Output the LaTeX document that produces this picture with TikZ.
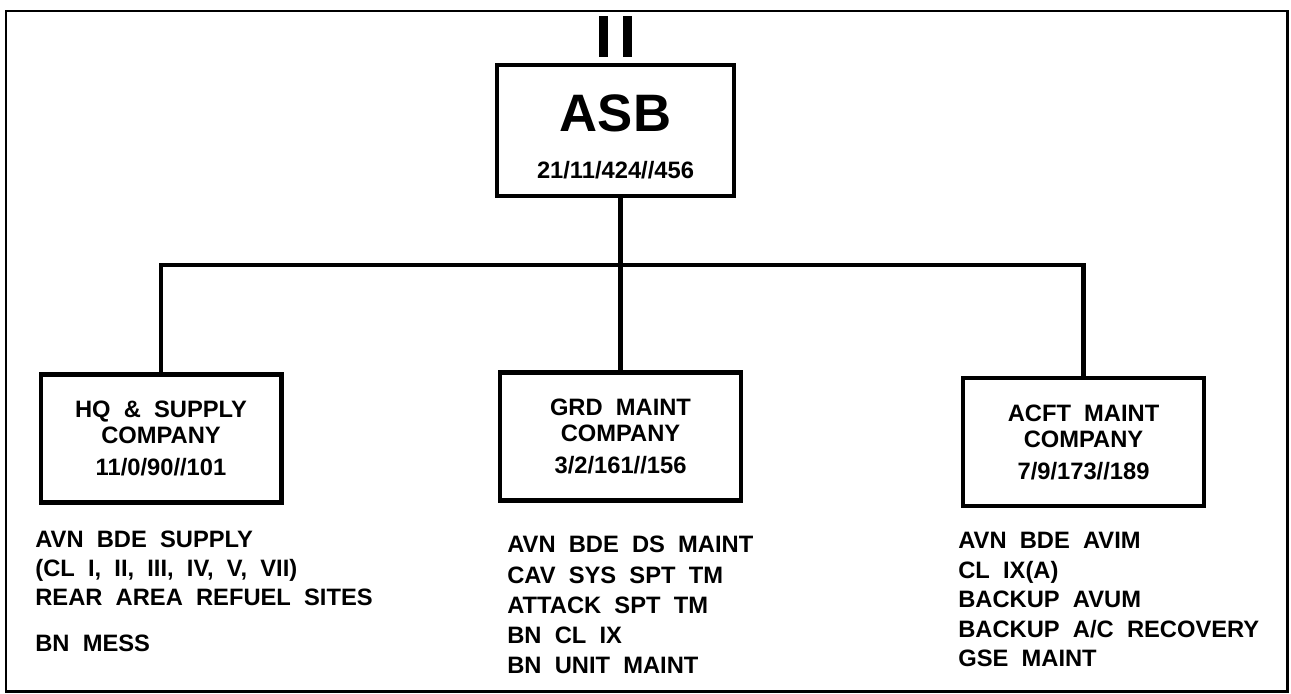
\documentclass[tikz,border=0pt]{standalone}
\usepackage{fontspec}
\setmainfont[WordSpace=2]{Liberation Sans}
\begin{document}
\begin{tikzpicture}[
    x=0.02cm, y=-0.02cm,
    unitbox/.style={
      rectangle, draw=black, line width=2.3pt, fill=white,
      minimum width=4.82cm, minimum height=2.56cm,
      align=center, inner sep=0pt,
      font=\bfseries\fontsize{13.5}{15}\selectfont
    },
    hqbox/.style={unitbox, minimum width=4.74cm, minimum height=2.62cm},
    tasks/.style={
      anchor=north west, align=left, inner sep=0pt,
      font=\bfseries\fontsize{13.5}{17}\selectfont
    },
    conn/.style={line width=2.8pt},
    frame/.style={line width=1.7pt},
]
\useasboundingbox (0,0) rectangle (1291,693);

% ===== OUTER FRAME =====
\draw[frame] (6,11) rectangle (1287,691);

% ===== BATTALION =====
\node[hqbox] (asb) at (615.5,130.5) {};
\node[font=\bfseries\fontsize{30}{32}\selectfont] (asbname) at (615.5,113) {ASB};
\node[font=\bfseries\fontsize{13.5}{15}\selectfont] (asbstr) at (615.5,170) {21/11/424//456};
% echelon mark
\fill (599,16) rectangle (608,57);
\fill (623,16) rectangle (632,57);

% ===== COMPANIES =====
\node[unitbox] (hqco) at (161,438.5) {HQ \& SUPPLY\\COMPANY\\[3pt]11/0/90//101};
\node[unitbox] (grdco) at (620.5,436.5) {GRD MAINT\\COMPANY\\[3pt]3/2/161//156};
\node[unitbox] (acftco) at (1083.5,442) {ACFT MAINT\\COMPANY\\[3pt]7/9/173//189};

% ===== CONNECTORS =====
\coordinate (bus) at (620,265);
\draw[conn] (asb.south -| grdco.north) -- (grdco.north);
\draw[conn] (hqco.north) -- (hqco.north |- bus) -- (acftco.north |- bus) -- (acftco.north);

% ===== MISSIONS =====
\node[tasks, font=\bfseries\fontsize{13.5}{16.3}\selectfont] (hqtasks) at (35,531)
  {AVN BDE SUPPLY\\(CL I, II, III, IV, V, VII)\\REAR AREA REFUEL SITES\\[10pt]BN MESS};
\node[tasks, font=\bfseries\fontsize{13.5}{17.2}\selectfont] (grdtasks) at (507,536)
  {AVN BDE DS MAINT\\CAV SYS SPT TM\\ATTACK SPT TM\\BN CL IX\\BN UNIT MAINT};
\node[tasks, font=\bfseries\fontsize{13.5}{16.8}\selectfont] (acfttasks) at (958,532)
  {AVN BDE AVIM\\CL IX(A)\\BACKUP AVUM\\BACKUP A/C RECOVERY\\GSE MAINT};

\end{tikzpicture}
\end{document}
